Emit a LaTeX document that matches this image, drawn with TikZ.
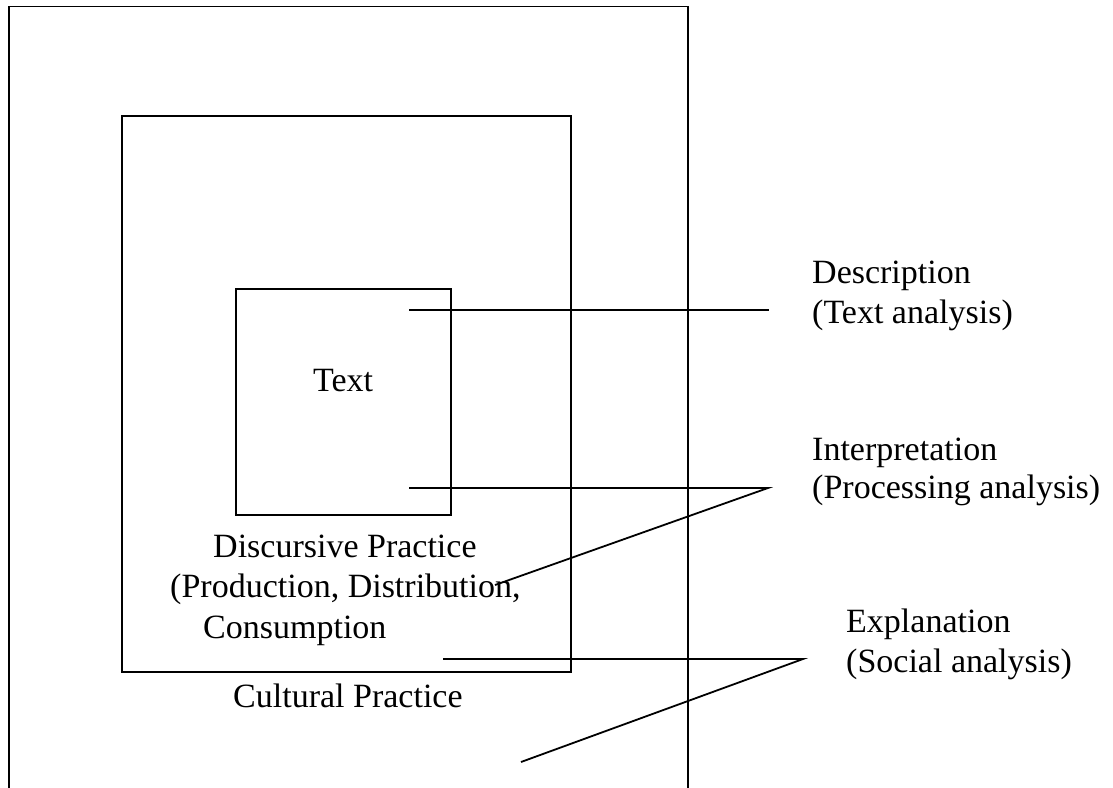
\documentclass[tikz,border=0pt]{standalone}
\usepackage{fontspec}
\setmainfont{Liberation Serif}
\begin{document}
\begin{tikzpicture}[x=1pt,y=-1pt,
  box/.style={draw, line width=1.8pt},
  conn/.style={draw, line width=1.8pt},
  lbl/.style={anchor=base west, inner sep=0pt, font=\fontsize{34}{39}\selectfont}]
\useasboundingbox (0,0) rectangle (1113,787);
% boxes
\draw[box] (9,800) -- (9,6.5) -- (688,6.5) -- (688,800);
\draw[box] (122,116) rectangle (571,672);
\draw[box] (236,289) rectangle (451,515);
% labels
\node[lbl] (text) at (313,391) {Text};
\node[lbl] (disc1) at (213,557) {Discursive Practice};
\node[lbl] (disc2) at (170,597) {(Production, Distribution,};
\node[lbl] (disc3) at (203,638) {Consumption};
\node[lbl] (cult) at (233,707) {Cultural Practice};
\node[lbl] (desc1) at (812,283) {Description};
\node[lbl] (desc2) at (812,323) {(Text analysis)};
\node[lbl] (int1) at (812,460) {Interpretation};
\node[lbl] (int2) at (812,498) {(Processing analysis)};
\node[lbl] (exp1) at (846,632) {Explanation};
\node[lbl] (exp2) at (846,672) {(Social analysis)};
% connector points
\coordinate (d1) at (409,310);
\coordinate (d2) at (769,310);
\coordinate (i1) at (409,488);
\coordinate (i2) at (768,488);
\coordinate (i3) at (495,585);
\coordinate (e1) at (443,659);
\coordinate (e2) at (803,659);
\coordinate (e3) at (521,762);
\path[conn] (d1) -- (d2);
\path[conn] (i1) -- (i2) -- (i3);
\path[conn] (e1) -- (e2) -- (e3);
\end{tikzpicture}
\end{document}
